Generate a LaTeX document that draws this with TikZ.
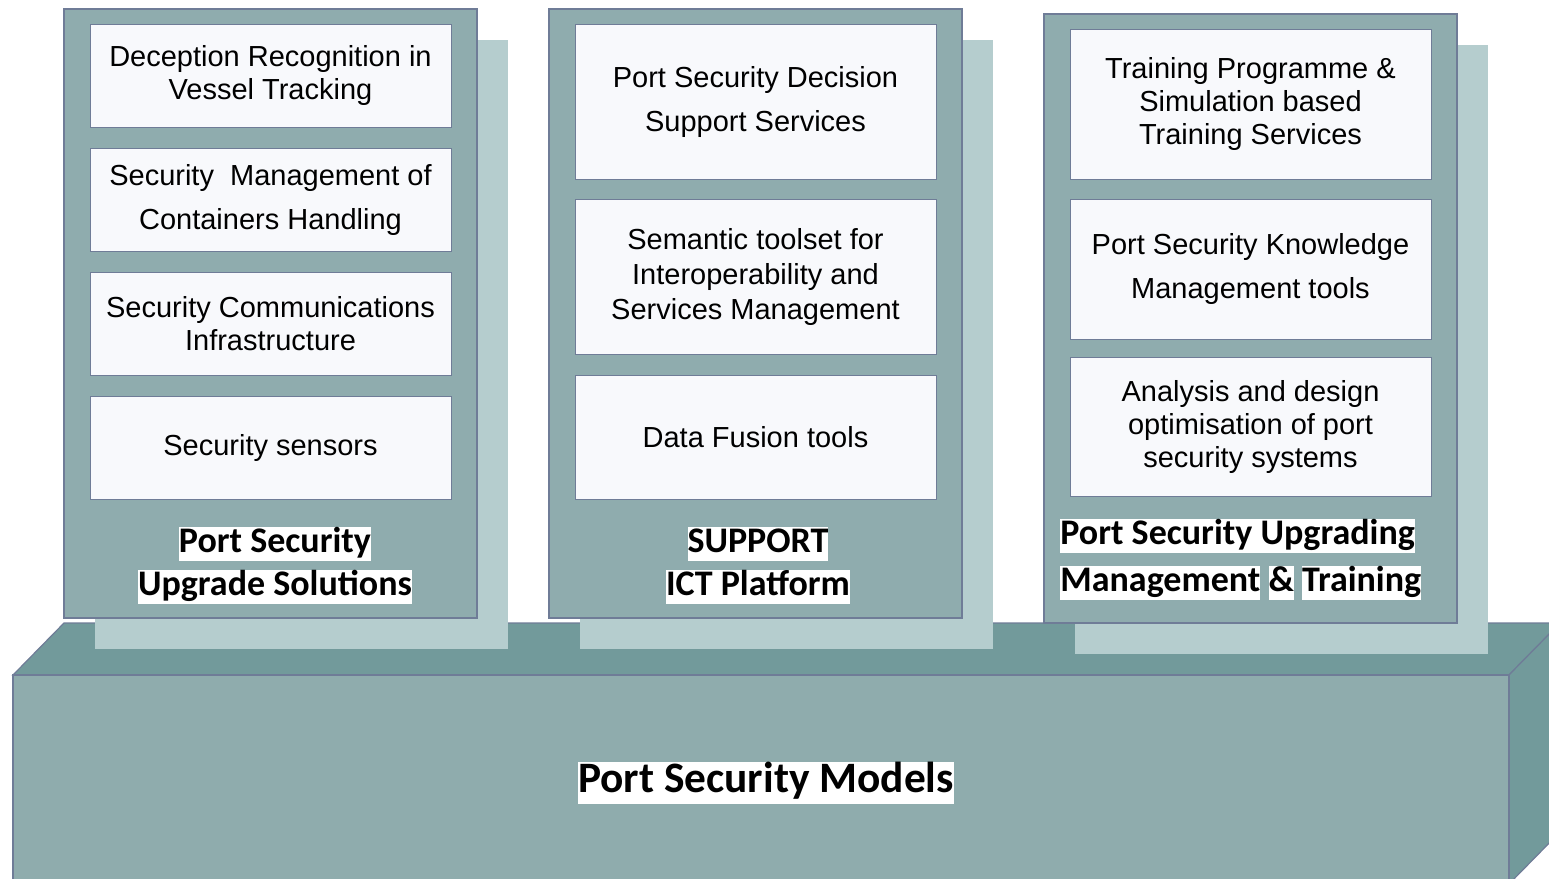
\documentclass[tikz,border=0pt]{standalone}
\usepackage{fontspec}
\setmainfont{Liberation Sans}
\newfontfamily\headfont{Carlito}
\usetikzlibrary{positioning}

\definecolor{basefront}{HTML}{8FACAD}
\definecolor{basetop}{HTML}{729A9B}
\definecolor{panelfill}{HTML}{8FACAE}
\definecolor{shadowfill}{HTML}{B5CDCE}
\definecolor{boxfill}{HTML}{F8F9FC}
\definecolor{edgeline}{HTML}{6F7C97}

% white highlight behind the headings
\newcommand{\hlite}[1]{{\setlength{\fboxsep}{0pt}\colorbox{white}{\rule[-0.25em]{0pt}{0.95em}#1}}}

\begin{document}
\begin{tikzpicture}[x=0.5pt,y=-0.5pt,node distance=10pt,
  item node/.style={rectangle,draw=edgeline,line width=0.5pt,fill=boxfill,
    minimum width=180.5pt,inner sep=0pt,align=center,
    font=\fontsize{14.5}{16.5}\selectfont},
  mid lines/.style={font=\fontsize{14.5}{17.5}\selectfont},
  wide lines/.style={font=\fontsize{14.5}{22}\selectfont},
  panel/.style={fill=panelfill,draw=edgeline,line width=0.6pt},
  back/.style={fill=shadowfill},
  title node/.style={inner sep=0pt,font=\headfont\bfseries\fontsize{18}{21.5}\selectfont}]

  \useasboundingbox (0,0) rectangle (1549,879);
  \clip (0,0) rectangle (1549,879);

  % base block
  \filldraw[basetop,draw=edgeline,line width=0.6pt]
    (13,675) -- (64,623) -- (1560,623) -- (1509,675) -- cycle;
  \filldraw[basetop,draw=edgeline,line width=0.6pt]
    (1509,675) -- (1560,623) -- (1560,832) -- (1509,884) -- cycle;
  \filldraw[basefront,draw=edgeline,line width=0.6pt] (13,675) rectangle (1509,884);
  \node[title node,font=\headfont\bfseries\fontsize{21.7}{26}\selectfont]
    (models) at (766,783) {\hlite{Port Security Models}};

  % shadows and panels
  \fill[back] (95,40) rectangle (508,649);
  \fill[back] (580,40) rectangle (993,649);
  \fill[back] (1075,45) rectangle (1488,654);
  \draw[panel] (64,9) rectangle (477,618);
  \draw[panel] (549,9) rectangle (962,618);
  \draw[panel] (1044,14) rectangle (1457,623);

  % upgrade solutions
  \node[item node,minimum height=51.5pt] (decep) at (270.5,75.5)
    {Deception Recognition in\\Vessel Tracking};
  \node[item node,wide lines,minimum height=51.5pt,below=10pt of decep] (contain)
    {Security\ \ Management of\\Containers Handling};
  \node[item node,minimum height=51.5pt,below=10pt of contain] (comms)
    {Security Communications\\Infrastructure};
  \node[item node,minimum height=51.5pt,below=10pt of comms] (sensors)
    {Security sensors};
  \node[title node,align=center] (title1) at (275,565.5)
    {\hlite{Port Security}\\\hlite{Upgrade Solutions}};

  % ICT platform
  \node[item node,wide lines,minimum height=77.5pt] (decision) at (755.5,101.5)
    {Port Security Decision\\Support Services};
  \node[item node,mid lines,minimum height=77.5pt,below=9.5pt of decision] (semantic)
    {Semantic toolset for\\Interoperability and\\Services Management};
  \node[item node,minimum height=62pt,below=10pt of semantic] (fusion)
    {Data Fusion tools};
  \node[title node,align=center] (title2) at (758,565.5)
    {\hlite{SUPPORT}\\\hlite{ICT Platform}};

  % management and training
  \node[item node,minimum height=75pt] (training) at (1250.5,104)
    {Training Programme \&\\Simulation based\\Training Services};
  \node[item node,wide lines,minimum height=70pt,below=9.5pt of training] (knowledge)
    {Port Security Knowledge\\Management tools};
  \node[item node,minimum height=69.5pt,below=8.5pt of knowledge] (analysis)
    {Analysis and design\\optimisation of port\\security systems};
  \node[title node,align=left,anchor=west,font=\headfont\bfseries\fontsize{18}{23.5}\selectfont]
    (title3) at (1060,559.5)
    {\hlite{Port Security Upgrading}\\\hlite{Management} \hlite{\&} \hlite{Training}};
\end{tikzpicture}
\end{document}
